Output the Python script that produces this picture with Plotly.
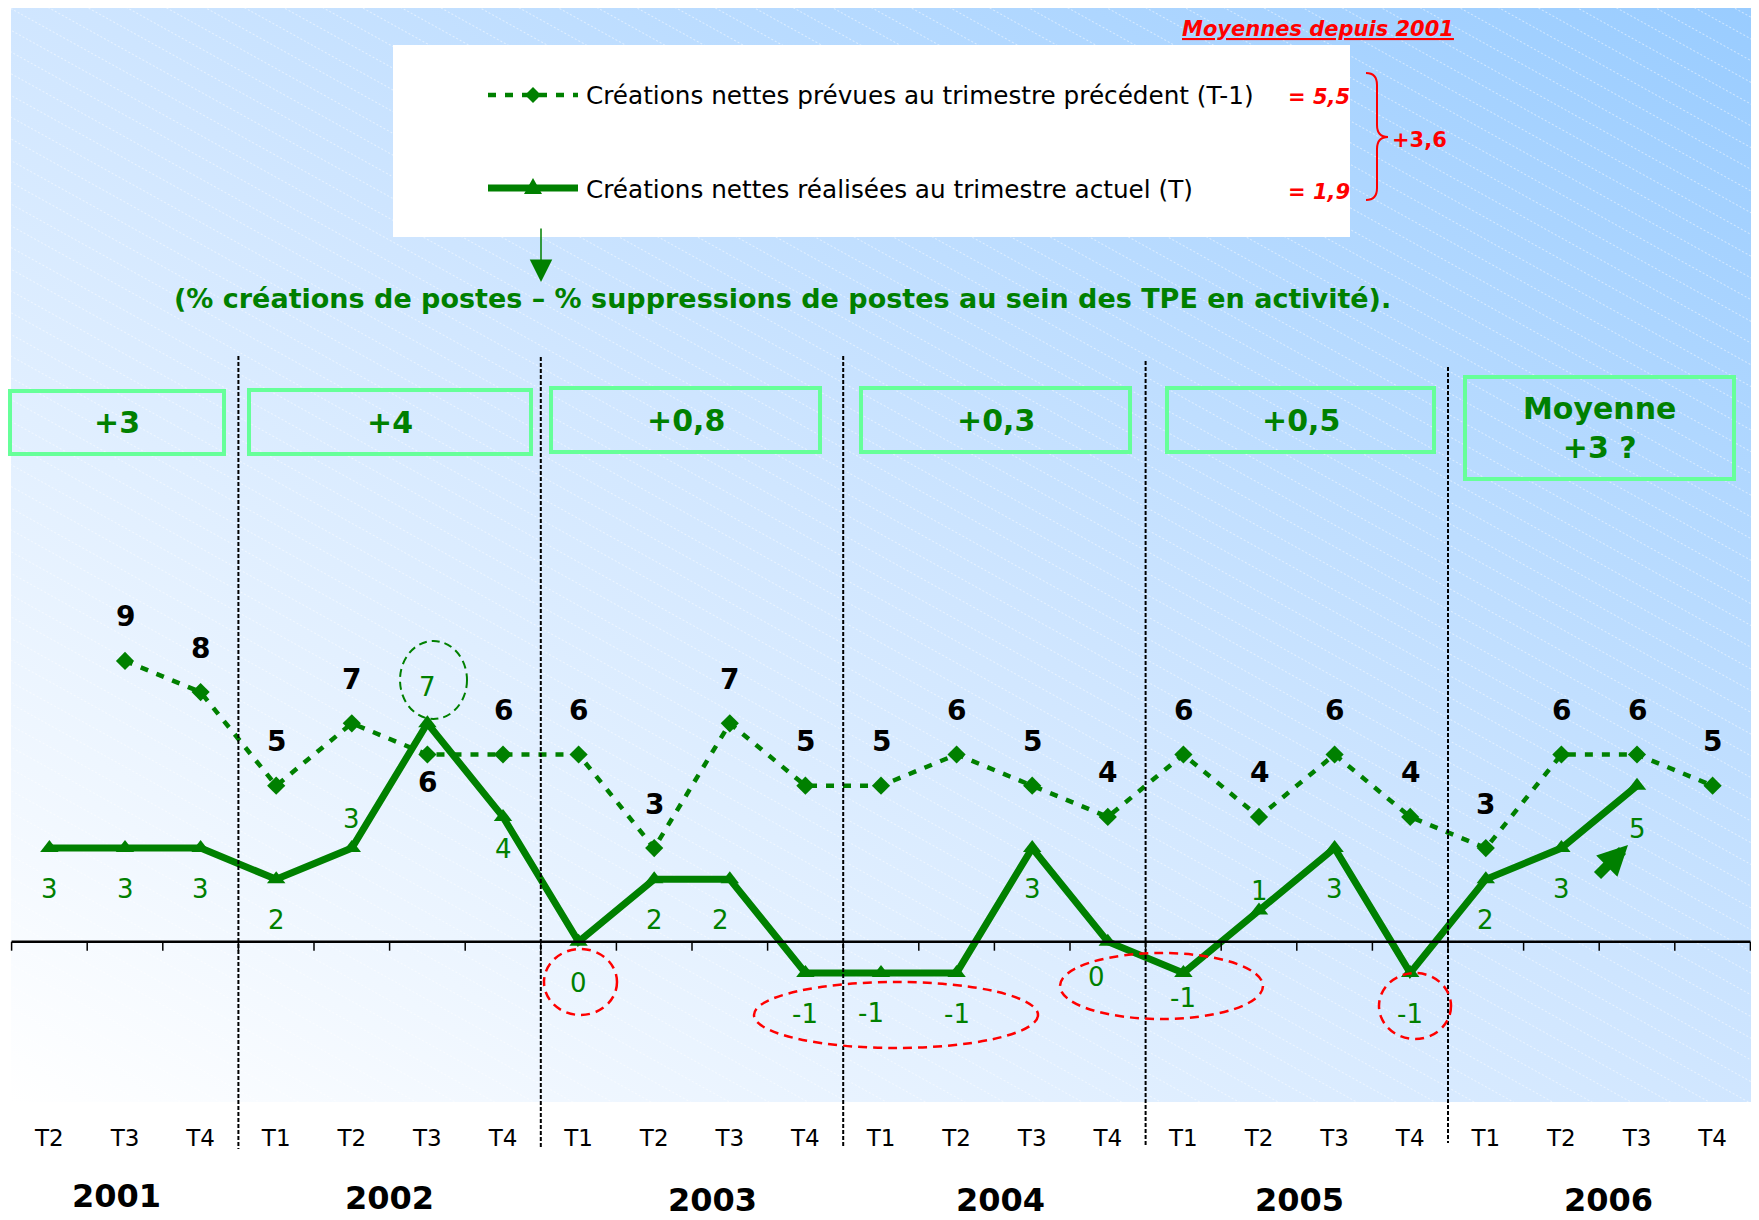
import base64

import plotly.graph_objects as go

# ---------------------------------------------------------------------------
# Data
# ---------------------------------------------------------------------------
quarters = ["T2", "T3", "T4"] + ["T1", "T2", "T3", "T4"] * 5
years = ["2001", "2002", "2003", "2004", "2005", "2006"]
prevues = [None, 9, 8, 5, 7, 6, 6, 6, 3, 7, 5, 5, 6, 5, 4, 6, 4, 6, 4, 3, 6, 6, 5]
realisees = [3, 3, 3, 2, 3, 7, 4, 0, 2, 2, -1, -1, -1, 3, 0, -1, 1, 3, -1, 2, 3, 5, None]
moyennes_annuelles = ["+3", "+4", "+0,8", "+0,3", "+0,5", "Moyenne<br>+3 ?"]
moy_prevues = "= 5,5"
moy_realisees = "= 1,9"
ecart = "+3,6"

# ---------------------------------------------------------------------------
# Layout helpers: positions below are screen pixels; the page body adds an
# 8px margin, so the figure is shifted by OFF.
# ---------------------------------------------------------------------------
OFF = 8
W, H = 1759 - OFF, 1220 - OFF
X0, DX = 49.4 - OFF, 75.6     # pixel of first quarter, pixels per quarter
Y0, DY = 941.7 - OFF, 31.2    # pixel of value 0, pixels per unit
GREEN = "#008000"
RED = "#FF0000"
BOX = "#66FF99"
FONT = "DejaVu Sans"


def px(x):
    return (x - OFF) / W


def py(y):
    return 1 - (y - OFF) / H


def note(x, y, text, font, **kw):
    d = dict(xref="paper", yref="paper", x=px(x), y=py(y), text=text, showarrow=False,
             xanchor="center", yanchor="middle", font=font)
    d.update(kw)
    return d


xs = list(range(len(quarters)))

# background gradient with faint hatching
bx0, by0, bx1, by1 = 11, 8, 1753, 1102
bw, bh = bx1 - bx0, by1 - by0
svg = f"""<svg xmlns="http://www.w3.org/2000/svg" width="{bw}" height="{bh}" viewBox="0 0 {bw} {bh}">
<defs>
<linearGradient id="g" x1="0" y1="1" x2="1" y2="0">
<stop offset="0" stop-color="#FFFFFF"/>
<stop offset="0.5" stop-color="#D0E6FF"/>
<stop offset="1" stop-color="#99CCFF"/>
</linearGradient>
<pattern id="h" width="40" height="19" patternUnits="userSpaceOnUse" patternTransform="rotate(29)">
<line x1="0" y1="0.5" x2="40" y2="0.5" stroke="#FFFFFF" stroke-opacity="0.5" stroke-width="1" stroke-dasharray="2,2"/>
</pattern>
</defs>
<rect width="{bw}" height="{bh}" fill="url(#g)"/>
<rect width="{bw}" height="{bh}" fill="url(#h)"/>
</svg>"""
bg_src = "data:image/svg+xml;base64," + base64.b64encode(svg.encode()).decode()

fig = go.Figure()

fig.add_trace(go.Scatter(
    x=xs, y=prevues, mode="lines+markers",
    line=dict(color=GREEN, width=4.5, dash="8px,9px"),
    marker=dict(symbol="diamond", size=14, color=GREEN),
    hoverinfo="skip",
))
fig.add_trace(go.Scatter(
    x=xs, y=realisees, mode="lines+markers",
    line=dict(color=GREEN, width=7),
    marker=dict(symbol="triangle-up", size=16, color=GREEN),
    hoverinfo="skip",
))

shapes = []
annotations = []

# zero line with ticks between quarters
shapes.append(dict(type="line", xref="x", yref="y", x0=-0.5, x1=len(xs) - 0.5,
                   y0=0, y1=0, line=dict(color="black", width=2.5)))
for k in range(len(xs) + 1):
    shapes.append(dict(type="line", xref="x", yref="y", x0=k - 0.5, x1=k - 0.5,
                       y0=0, y1=-9 / DY, line=dict(color="black", width=1.5)))

# dotted year separators
sep_top = [356, 357, 356, 361, 367]
sep_bot = [1149, 1149, 1148, 1145, 1143]
bounds = [2.5 + 4 * k for k in range(5)]
for b, t, bt in zip(bounds, sep_top, sep_bot):
    shapes.append(dict(type="line", xref="x", yref="paper", x0=b, x1=b,
                       y0=py(t), y1=py(bt),
                       line=dict(color="black", width=2, dash="4px,2px")))

# yearly average boxes
boxes = [(10, 391, 224, 454), (249, 390, 531, 454), (551, 388, 820, 452),
         (861, 388, 1130, 452), (1167, 388, 1434, 452), (1465, 377, 1734, 479)]
for (l, t, r, b), txt in zip(boxes, moyennes_annuelles):
    shapes.append(dict(type="rect", xref="paper", yref="paper",
                       x0=px(l), x1=px(r), y0=py(b), y1=py(t),
                       line=dict(color=BOX, width=4)))
    annotations.append(note((l + r) / 2, (t + b) / 2, txt,
                            dict(family=FONT, size=30, color=GREEN, weight="bold")))

# legend panel
shapes.append(dict(type="rect", xref="paper", yref="paper", x0=px(393), x1=px(1350),
                   y0=py(237), y1=py(45), fillcolor="white", line=dict(width=0), layer="below"))
shapes.append(dict(type="line", xref="paper", yref="paper", x0=px(488), x1=px(578),
                   y0=py(95), y1=py(95), line=dict(color=GREEN, width=4.5, dash="8px,9px")))
shapes.append(dict(type="line", xref="paper", yref="paper", x0=px(488), x1=px(578),
                   y0=py(188), y1=py(188), line=dict(color=GREEN, width=7)))
dia = [(533, 87), (541, 95), (533, 103), (525, 95)]
shapes.append(dict(type="path", xref="paper", yref="paper", fillcolor=GREEN,
                   line=dict(color=GREEN, width=0),
                   path="M " + " L ".join(f"{px(a)} {py(b)}" for a, b in dia) + " Z"))
tri = [(533, 178), (542, 194), (524, 194)]
shapes.append(dict(type="path", xref="paper", yref="paper", fillcolor=GREEN,
                   line=dict(color=GREEN, width=0),
                   path="M " + " L ".join(f"{px(a)} {py(b)}" for a, b in tri) + " Z"))
leg_font = dict(family=FONT, size=24.7, color="black")
annotations.append(note(584, 96, "Créations nettes prévues au trimestre précédent (T-1)",
                        leg_font, xanchor="left"))
annotations.append(note(584, 190, "Créations nettes réalisées au trimestre actuel (T)",
                        leg_font, xanchor="left"))
red_font = dict(family=FONT, size=21, color=RED, weight="bold", style="italic")
annotations.append(note(1352, 97, moy_prevues, red_font, xanchor="right"))
annotations.append(note(1352, 192, moy_realisees, red_font, xanchor="right"))
annotations.append(note(1390, 140, ecart, dict(family=FONT, size=21, color=RED, weight="bold"),
                        xanchor="left"))
annotations.append(note(1318, 29, "<u>Moyennes depuis 2001</u>", red_font))
brace = [(1366, 73), (1377, 73), (1377, 85), (1377, 125), (1377, 137), (1388, 137),
         (1377, 137), (1377, 149), (1377, 188), (1377, 200), (1366, 200)]
p = [f"{px(a)} {py(b)}" for a, b in brace]
shapes.append(dict(type="path", xref="paper", yref="paper", line=dict(color=RED, width=2),
                   path=f"M {p[0]} Q {p[1]} {p[2]} L {p[3]} Q {p[4]} {p[5]} "
                        f"Q {p[6]} {p[7]} L {p[8]} Q {p[9]} {p[10]}"))

# arrow and subtitle
annotations.append(dict(xref="paper", yref="paper", x=px(541), y=py(282), ax=0, ay=-55,
                        text="", showarrow=True, arrowhead=2, arrowsize=3, arrowwidth=1.5,
                        arrowcolor=GREEN, standoff=0))
annotations.append(note(782, 298,
                        "(% créations de postes – % suppressions de postes au sein des TPE en activité).",
                        dict(family=FONT, size=27, color=GREEN, weight="bold")))

# value labels
prev_shift = {5: -28}
for i, v in enumerate(prevues):
    if v is None:
        continue
    annotations.append(dict(xref="x", yref="y", x=i, y=v, yshift=prev_shift.get(i, 44),
                            text=str(v), showarrow=False,
                            font=dict(family=FONT, size=28, color="black", weight="bold")))
real_shift = {4: (0, 29), 5: (0, 36), 6: (0, -32), 9: (-9, -41), 11: (-10, -40),
              14: (-11, -35), 15: (0, -25), 16: (0, 20), 21: (0, -43)}
for i, v in enumerate(realisees):
    if v is None:
        continue
    dx, dy = real_shift.get(i, (0, -41))
    annotations.append(dict(xref="x", yref="y", x=i, y=v, xshift=dx, yshift=dy,
                            text=str(v), showarrow=False,
                            font=dict(family=FONT, size=26, color=GREEN)))

# highlight ellipses
red_ell = [(544, 949, 617, 1015), (754, 982, 1038, 1048), (1060, 953, 1263, 1019),
           (1379, 973, 1451, 1039)]
for l, t, r, b in red_ell:
    shapes.append(dict(type="circle", xref="paper", yref="paper", x0=px(l), x1=px(r),
                       y0=py(b), y1=py(t), line=dict(color=RED, width=2.5, dash="9px,6px")))
shapes.append(dict(type="circle", xref="paper", yref="paper", x0=px(400), x1=px(467),
                   y0=py(719), y1=py(641), line=dict(color=GREEN, width=2, dash="8px,5px")))

# small upward arrow
annotations.append(dict(xref="paper", yref="paper", x=px(1628), y=py(845), ax=-32, ay=32,
                        text="", showarrow=True, arrowhead=2, arrowsize=0.6, arrowwidth=10,
                        arrowcolor=GREEN, standoff=0))

# years
year_pos = [(116, 1196), (389, 1198), (712, 1200), (1000, 1200), (1299, 1200), (1608, 1200)]
for (x, y), yr in zip(year_pos, years):
    annotations.append(note(x, y, yr, dict(family=FONT, size=32, color="black", weight="bold")))

fig.update_layout(
    width=W, height=H,
    margin=dict(l=0, r=0, t=0, b=0),
    paper_bgcolor="white",
    plot_bgcolor="rgba(0,0,0,0)",
    showlegend=False,
    shapes=shapes,
    annotations=annotations,
    images=[dict(source=bg_src, xref="paper", yref="paper", x=px(bx0), y=py(by0),
                 sizex=bw / W, sizey=bh / H, xanchor="left", yanchor="top",
                 sizing="stretch", layer="below")],
    xaxis=dict(range=[-X0 / DX, (W - X0) / DX], tickvals=xs, ticktext=quarters,
               showgrid=False, zeroline=False, showline=False, ticks="",
               anchor="free", position=1 - (1122 - OFF) / H,
               tickfont=dict(family=FONT, size=23, color="black"), fixedrange=True),
    yaxis=dict(range=[(Y0 - H) / DY, Y0 / DY], visible=False, fixedrange=True),
)

fig.write_html("out.html")
